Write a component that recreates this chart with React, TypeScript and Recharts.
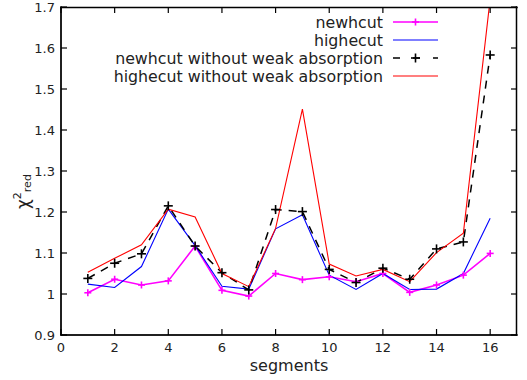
import { LineChart, Line, XAxis, YAxis } from "recharts";

// plot box (matches the gnuplot frame)
const W = 527;
const H = 380;
const LEFT = 61;
const RIGHT = 517;
const TOP = 7;
const BOTTOM = 335;
const FONT = "DejaVu Sans";
const TICK = 6;

const segments = [1, 2, 3, 4, 5, 6, 7, 8, 9, 10, 11, 12, 13, 14, 15, 16];
const newhcut = [1.003, 1.036, 1.022, 1.032, 1.117, 1.009, 0.995, 1.05, 1.035, 1.042, 1.03, 1.05, 1.004, 1.022, 1.046, 1.099];
const highecut = [1.024, 1.016, 1.067, 1.207, 1.118, 1.019, 1.012, 1.159, 1.193, 1.046, 1.011, 1.05, 1.011, 1.012, 1.05, 1.185];
const newhcutNoWeak = [1.038, 1.075, 1.098, 1.215, 1.117, 1.052, 1.01, 1.206, 1.201, 1.06, 1.028, 1.063, 1.036, 1.11, 1.127, 1.583];
const highecutNoWeak = [1.053, 1.087, 1.12, 1.207, 1.188, 1.05, 1.018, 1.16, 1.451, 1.073, 1.044, 1.06, 1.03, 1.101, 1.148, 1.72];

const xTicks = [0, 2, 4, 6, 8, 10, 12, 14, 16];
const yTicks = [0.9, 1, 1.1, 1.2, 1.3, 1.4, 1.5, 1.6, 1.7];
const xMax = 17;
const yMin = 0.9;
const yMax = 1.7;

const data = segments.map((s, i) => ({
  segment: s,
  newhcut: newhcut[i],
  highecut: highecut[i],
  newhcutNoWeak: newhcutNoWeak[i],
  highecutNoWeak: highecutNoWeak[i],
}));

const series = [
  { key: "newhcut", name: "newhcut", color: "#ff00ff", width: 1.6, dash: undefined, plus: 3.5 },
  { key: "highecut", name: "highecut", color: "#0000ff", width: 1.1, dash: undefined, plus: 0 },
  { key: "newhcutNoWeak", name: "newhcut without weak absorption", color: "#000000", width: 1.5, dash: "8 7", plus: 4.5 },
  { key: "highecutNoWeak", name: "highecut without weak absorption", color: "#ff0000", width: 1.1, dash: undefined, plus: 0 },
];

function plusDot(color: string, r: number) {
  return (props: any) => {
    const { cx, cy, index } = props;
    if (cx == null || cy == null || cy < TOP - 1) return <g key={index} />;
    return (
      <g key={index} stroke={color} strokeWidth={1.6}>
        <line x1={cx - r} x2={cx + r} y1={cy} y2={cy} />
        <line x1={cx} x2={cx} y1={cy - r} y2={cy + r} />
      </g>
    );
  };
}

const fmtY = (v: number) => String(Number(v.toFixed(1)));

function LeftTick(props: any) {
  const { y, payload } = props;
  return (
    <text x={LEFT - 6} y={y} dy="0.36em" textAnchor="end" fontSize={13} fontFamily={FONT} fill="#222">
      {fmtY(payload.value)}
    </text>
  );
}

function BottomTick(props: any) {
  const { x, payload } = props;
  return (
    <text x={x} y={BOTTOM + 17} textAnchor="middle" fontSize={13} fontFamily={FONT} fill="#222">
      {payload.value}
    </text>
  );
}

function YLabel() {
  return (
    <text transform="rotate(-90 29 209)" x={29} y={209} fontFamily={FONT} fill="#222">
      <tspan fontSize={17}>χ</tspan>
      <tspan fontSize={11} dy={-8}>2</tspan>
      <tspan fontSize={11} dy={10}>red</tspan>
    </text>
  );
}

function XLabel() {
  return (
    <text x={289} y={371} textAnchor="middle" fontSize={16} fontFamily={FONT} fill="#222">
      segments
    </text>
  );
}

// ─── gnuplot-style frame with inward ticks on all four sides ───
function Frame() {
  const px = (v: number) => LEFT + (v / xMax) * (RIGHT - LEFT);
  const py = (v: number) => BOTTOM - ((v - yMin) / (yMax - yMin)) * (BOTTOM - TOP);
  return (
    <svg width={W} height={H} style={{ position: "absolute", left: 0, top: 0, pointerEvents: "none" }}>
      <g stroke="#000" strokeWidth={1.5} fill="none" strokeLinecap="square">
        <line x1={LEFT} x2={RIGHT} y1={TOP + 0.5} y2={TOP + 0.5} />
        <line x1={RIGHT - 0.5} x2={RIGHT - 0.5} y1={TOP} y2={BOTTOM} />
        <line x1={LEFT} x2={RIGHT} y1={BOTTOM} y2={BOTTOM} />
        <line x1={LEFT} x2={LEFT} y1={TOP} y2={BOTTOM} />
      </g>
      <g stroke="#000" strokeWidth={1.2} fill="none">
        {xTicks.map((t) => (
          <g key={"x" + t}>
            <line x1={px(t)} x2={px(t)} y1={BOTTOM} y2={BOTTOM - TICK} />
            <line x1={px(t)} x2={px(t)} y1={TOP} y2={TOP + TICK} />
          </g>
        ))}
        {yTicks.map((t) => (
          <g key={"y" + t}>
            <line x1={LEFT} x2={LEFT + TICK} y1={py(t)} y2={py(t)} />
            <line x1={RIGHT - TICK} x2={RIGHT} y1={py(t)} y2={py(t)} />
          </g>
        ))}
      </g>
    </svg>
  );
}

function KeyBox() {
  return (
    <svg width={W} height={90} style={{ position: "absolute", left: 0, top: 0, pointerEvents: "none" }}>
      {series.map((s, i) => {
        const y = 22 + i * 18;
        return (
          <g key={s.key}>
            <text x={383} y={y} dy="0.36em" textAnchor="end" fontSize={15.8} fontFamily={FONT} fill="#222">
              {s.name}
            </text>
            <line x1={393} x2={438} y1={y} y2={y} stroke={s.color} strokeWidth={s.width} strokeDasharray={s.dash ? "7 13" : undefined} />
            {s.plus > 0 && (
              <g stroke={s.color} strokeWidth={1.6}>
                <line x1={415.5 - s.plus} x2={415.5 + s.plus} y1={y} y2={y} />
                <line x1={415.5} x2={415.5} y1={y - s.plus} y2={y + s.plus} />
              </g>
            )}
          </g>
        );
      })}
    </svg>
  );
}

export default function App() {
  return (
    <div style={{ position: "absolute", left: 0, top: 0, width: W, height: H, background: "#fff" }}>
      <LineChart width={W} height={H} data={data} margin={{ top: TOP, right: W - RIGHT, left: 0, bottom: 0 }}>
        <XAxis
          dataKey="segment"
          type="number"
          domain={[0, xMax]}
          ticks={xTicks}
          height={H - BOTTOM}
          tickLine={false}
          axisLine={{ stroke: "#000" }}
          tick={<BottomTick />}
          interval={0}
          label={{ content: () => <XLabel /> }}
        />
        <YAxis
          type="number"
          domain={[yMin, yMax]}
          ticks={yTicks}
          allowDataOverflow
          width={LEFT}
          tickLine={false}
          axisLine={{ stroke: "#000" }}
          tick={<LeftTick />}
          interval={0}
          label={{ content: () => <YLabel /> }}
        />
        {series.map((s) => (
          <Line
            key={s.key}
            type="linear"
            dataKey={s.key}
            name={s.name}
            stroke={s.color}
            strokeWidth={s.width}
            strokeDasharray={s.dash}
            dot={s.plus > 0 ? plusDot(s.color, s.plus) : false}
            activeDot={false}
            isAnimationActive={false}
          />
        ))}
      </LineChart>
      <Frame />
      <KeyBox />
    </div>
  );
}
